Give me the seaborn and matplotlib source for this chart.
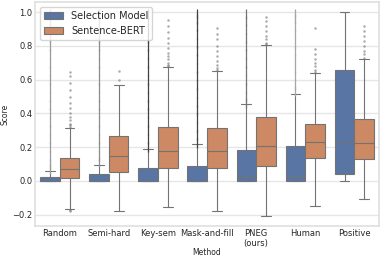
import numpy as np
import pandas as pd
import matplotlib
matplotlib.use("Agg")
import matplotlib.pyplot as plt
import seaborn as sns

methods = ["Random", "Semi-hard", "Key-sem", "Mask-and-fill", "PNEG\n(ours)", "Human", "Positive"]
models = ["Selection Model", "Sentence-BERT"]

# box statistics: lower whisker, q1, median, q3, upper whisker
sel_lo = [0.0, 0.0, 0.0, 0.0, 0.0, 0.0, 0.0]
sel_q1 = [0.0, 0.0, 0.0, 0.0, 0.0, 0.0, 0.04]
sel_med = [0.0, 0.0, 0.0, 0.0, 0.02, 0.03, 0.228]
sel_q3 = [0.024, 0.040, 0.075, 0.087, 0.182, 0.208, 0.657]
sel_hi = [0.058, 0.096, 0.187, 0.216, 0.453, 0.518, 1.0]
sel_fliers = [
    [0.07, 0.1, 0.15, 0.2, 0.25, 0.3, 0.35, 0.4, 0.45, 0.5, 0.55, 0.6, 0.65, 0.7, 0.75, 0.8, 0.85, 0.9, 0.95, 0.99],
    [0.11, 0.15, 0.2, 0.25, 0.3, 0.35, 0.4, 0.45, 0.5, 0.55, 0.6, 0.65, 0.7, 0.75, 0.8, 0.85, 0.9, 0.95, 0.99],
    [0.2, 0.25, 0.3, 0.35, 0.4, 0.45, 0.5, 0.55, 0.6, 0.65, 0.7, 0.75, 0.8, 0.85, 0.9, 0.95, 0.99],
    [0.225, 0.27, 0.32, 0.37, 0.42, 0.47, 0.52, 0.57, 0.62, 0.67, 0.72, 0.77, 0.82, 0.87, 0.92, 0.96, 0.99],
    [0.46, 0.5, 0.55, 0.6, 0.65, 0.7, 0.75, 0.8, 0.85, 0.9, 0.95, 0.99],
    [0.53, 0.57, 0.62, 0.67, 0.72, 0.77, 0.82, 0.87, 0.92, 0.96, 0.99],
    [],
]
# how dark each streak of selection-model outliers looks
sel_streak_grey = ["0.6", "0.55", "0.25", "0.25", "0.45", "0.65", "0.5"]

sb_lo = [-0.164, -0.178, -0.154, -0.178, -0.208, -0.147, -0.105]
sb_q1 = [0.014, 0.053, 0.079, 0.079, 0.087, 0.135, 0.127]
sb_med = [0.069, 0.150, 0.180, 0.178, 0.208, 0.232, 0.222]
sb_q3 = [0.133, 0.267, 0.317, 0.311, 0.376, 0.337, 0.366]
sb_hi = [0.311, 0.570, 0.673, 0.651, 0.806, 0.638, 0.720]
sb_fliers = [
    [0.32, 0.33, 0.34, 0.36, 0.38, 0.40, 0.43, 0.46, 0.50, 0.54, 0.58, 0.62, 0.647, -0.175, -0.18],
    [0.60, 0.653],
    [0.68, 0.69, 0.70, 0.72, 0.74, 0.76, 0.79, 0.82, 0.85, 0.88, 0.92, 0.954],
    [0.66, 0.67, 0.69, 0.71, 0.74, 0.77, 0.80, 0.84, 0.87, 0.905],
    [0.81, 0.82, 0.84, 0.86, 0.89, 0.92, 0.95, 0.974],
    [0.645, 0.66, 0.68, 0.70, 0.72, 0.75, 0.78, 0.905],
    [0.73, 0.75, 0.77, 0.80, 0.83, 0.86, 0.89, 0.919],
]

# build raw samples that reproduce the read statistics
rep = 100
rows = []
stats = {
    "Selection Model": (sel_lo, sel_q1, sel_med, sel_q3, sel_hi, sel_fliers),
    "Sentence-BERT": (sb_lo, sb_q1, sb_med, sb_q3, sb_hi, sb_fliers),
}
for model, (lo, q1, med, q3, hi, fl) in stats.items():
    for i, m in enumerate(methods):
        vals = [lo[i], q1[i], med[i], q3[i], hi[i]] * rep + fl[i]
        for v in vals:
            rows.append((m, model, v))
df = pd.DataFrame(rows, columns=["Method", "model", "Score"])

sns.set_theme(style="whitegrid", rc={"grid.color": "0.9", "axes.edgecolor": "0.88"})
fig, ax = plt.subplots(figsize=(3.82, 2.59), dpi=100)
sns.boxplot(data=df, x="Method", y="Score", hue="model", order=methods, hue_order=models,
            ax=ax, linewidth=0.8, linecolor="0.45", fliersize=0.8,
            flierprops={"marker": "o", "alpha": 0.6})

# the selection model fliers are so dense they form a solid streak
for ln in ax.lines:
    x = ln.get_xdata()
    if ln.get_linestyle() == "None" and len(x) > 0:
        xm = float(np.mean(x))
        if xm < round(xm):
            ln.set_marker("|")
            ln.set_markersize(7)
            ln.set_markeredgewidth(0.9)
            ln.set_alpha(1.0)
            ln.set_markeredgecolor(sel_streak_grey[int(round(xm))])

sns.move_legend(ax, "upper left", title=None, fontsize=7, frameon=True)
ax.set_xlabel("Method", fontsize=5.5, labelpad=0)
ax.set_ylabel("Score", fontsize=5.5, labelpad=2)
ax.tick_params(axis="both", labelsize=6, pad=2, length=0)
fig.subplots_adjust(left=0.092, right=0.992, top=0.992, bottom=0.127)
fig.savefig("out.png", dpi=100)
